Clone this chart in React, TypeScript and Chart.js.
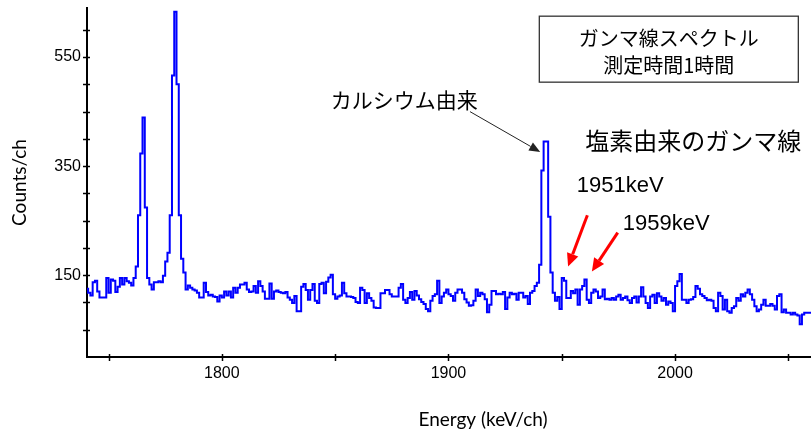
import React, { useEffect, useRef } from 'react';
import { Chart, registerables } from 'chart.js';

Chart.register(...registerables);

// ---- data -----------------------------------------------------------
const CHANNEL_START = 1740; // keV, lower edge of first channel
const CHANNEL_WIDTH = 1; // keV per channel

const counts1740 = [
  131, 125, 118, 113, 137, 140, 120, 109, 109, 109,
  145, 118, 142, 140, 119, 129, 145, 133, 145, 139,
  136, 131, 145, 166, 260, 373, 439, 274, 145, 133,
  124, 137, 137, 139, 137, 149, 175, 191, 260, 516,
];
const counts1780 = [
  633, 500, 260, 180, 155, 124, 131, 127, 124, 122,
  118, 109, 109, 136, 119, 113, 114, 111, 110, 102,
  113, 109, 120, 113, 120, 109, 127, 118, 127, 133,
  133, 136, 124, 119, 120, 130, 118, 139, 130, 120,
];
const counts1820 = [
  107, 107, 135, 107, 120, 122, 119, 118, 117, 119,
  109, 105, 99, 112, 84, 84, 129, 134, 123, 105,
  123, 134, 103, 99, 134, 136, 117, 138, 146, 151,
  115, 107, 111, 113, 136, 117, 111, 111, 110, 108,
];
const counts1860 = [
  101, 99, 127, 123, 99, 117, 108, 103, 91, 90,
  90, 117, 117, 123, 123, 115, 111, 111, 111, 127,
  134, 105, 99, 108, 119, 105, 121, 113, 106, 101,
  97, 88, 84, 103, 112, 115, 140, 99, 111, 118,
];
const counts1900 = [
  124, 115, 112, 103, 118, 124, 124, 118, 106, 100,
  94, 95, 103, 124, 112, 118, 115, 106, 82, 96,
  121, 121, 115, 116, 115, 119, 88, 109, 118, 115,
  116, 105, 118, 118, 109, 112, 97, 118, 121, 130,
];
const counts1940 = [
  136, 169, 342, 395, 395, 257, 155, 118, 103, 110,
  88, 145, 140, 108, 108, 121, 117, 124, 96, 124,
  130, 142, 105, 99, 118, 124, 120, 108, 111, 124,
  106, 107, 105, 108, 105, 111, 114, 105, 108, 111,
];
const counts1980 = [
  104, 99, 108, 111, 100, 111, 128, 111, 99, 90,
  111, 114, 99, 117, 111, 103, 108, 96, 102, 99,
  84, 130, 139, 152, 105, 105, 99, 105, 106, 110,
  130, 125, 115, 112, 108, 104, 105, 103, 90, 84,
];
const counts2020 = [
  118, 112, 87, 105, 84, 81, 90, 93, 108, 103,
  115, 111, 118, 124, 115, 105, 93, 84, 87, 96,
  105, 94, 94, 97, 94, 87, 112, 115, 82, 87,
  81, 81, 78, 81, 78, 76, 60, 78, 81, 81,
];

const counts = [
  ...counts1740, ...counts1780, ...counts1820, ...counts1860,
  ...counts1900, ...counts1940, ...counts1980, ...counts2020,
];

const xTickValues = [1750, 1800, 1850, 1900, 1950, 2000, 2050];
const xTickLabels = ['1800', '1900', '2000'];
const yTickValues = [50, 100, 150, 200, 250, 300, 350, 400, 450, 500, 550, 600];
const yTickLabels = ['150', '350', '550'];

const xTitle = 'Energy (keV/ch)';
const yTitle = 'Counts/ch';
const boxLines = ['ガンマ線スペクトル', '測定時間1時間'];
const caLabel = 'カルシウム由来';
const clLabel = '塩素由来のガンマ線';
const peakLabels = ['1951keV', '1959keV'];

// annotation placement, in data coordinates (keV, counts)
const boxRect = { e1: 1940.1, e2: 2054.4, c1: 625, c2: 504 };
const boxLineAt = [{ e: 1997.2, c: 585 }, { e: 1997.2, c: 535 }];
const caLabelAt = { e: 1880.5, c: 471 };
const caArrow = { e1: 1909.5, c1: 450, e2: 1940.5, c2: 376 };
const clLabelAt = { e: 2008, c: 396 };
const peakLabelAt = [{ e: 1975.8, c: 313 }, { e: 1996.1, c: 244 }];
const redArrows = [
  { e1: 1961.3, c1: 260, e2: 1952.8, c2: 166 },
  { e1: 1974.7, c1: 228, e2: 1963.3, c2: 157 },
];

// ---- helpers --------------------------------------------------------
function drawArrow(ctx, x1, y1, x2, y2, color, lw, headLen, headW) {
  const ang = Math.atan2(y2 - y1, x2 - x1);
  const bx = x2 - headLen * Math.cos(ang);
  const by = y2 - headLen * Math.sin(ang);
  ctx.strokeStyle = color;
  ctx.fillStyle = color;
  ctx.lineWidth = lw;
  ctx.beginPath();
  ctx.moveTo(x1, y1);
  ctx.lineTo(bx, by);
  ctx.stroke();
  ctx.beginPath();
  ctx.moveTo(x2, y2);
  ctx.lineTo(bx + (headW / 2) * Math.sin(ang), by - (headW / 2) * Math.cos(ang));
  ctx.lineTo(bx - (headW / 2) * Math.sin(ang), by + (headW / 2) * Math.cos(ang));
  ctx.closePath();
  ctx.fill();
}

const overlayPlugin = {
  id: 'overlay',
  afterDraw(chart) {
    const { ctx, chartArea } = chart;
    const xs = chart.scales.x;
    const ys = chart.scales.y;
    const px = (e) => xs.getPixelForValue(e);
    const py = (c) => ys.getPixelForValue(c);
    ctx.save();
    // tick marks crossing the axes
    ctx.strokeStyle = '#000';
    ctx.lineWidth = 1.5;
    xs.ticks.forEach((t) => {
      const p = Math.round(px(t.value)) + 0.5;
      ctx.beginPath();
      ctx.moveTo(p, chartArea.bottom - 3);
      ctx.lineTo(p, chartArea.bottom + 4);
      ctx.stroke();
    });
    ys.ticks.forEach((t) => {
      const p = Math.round(py(t.value)) + 0.5;
      ctx.beginPath();
      ctx.moveTo(chartArea.left - 4, p);
      ctx.lineTo(chartArea.left + 3, p);
      ctx.stroke();
    });

    // title box
    ctx.strokeStyle = '#333';
    ctx.lineWidth = 1.3;
    const bx1 = px(boxRect.e1), bx2 = px(boxRect.e2);
    const by1 = py(boxRect.c1), by2 = py(boxRect.c2);
    ctx.strokeRect(bx1, by1, bx2 - bx1, by2 - by1);
    ctx.fillStyle = '#000';
    ctx.textAlign = 'center';
    ctx.textBaseline = 'middle';
    ctx.font = '20px "Noto Sans CJK JP"';
    boxLines.forEach((s, i) => ctx.fillText(s, px(boxLineAt[i].e), py(boxLineAt[i].c)));

    // calcium label + arrow
    ctx.font = '21px "Noto Sans CJK JP"';
    ctx.fillText(caLabel, px(caLabelAt.e), py(caLabelAt.c));
    drawArrow(ctx, px(caArrow.e1), py(caArrow.c1), px(caArrow.e2), py(caArrow.c2), '#222', 1, 11, 9);

    // chlorine label
    ctx.fillStyle = '#000';
    ctx.font = '24px "Noto Sans CJK JP"';
    ctx.fillText(clLabel, px(clLabelAt.e), py(clLabelAt.c));

    // peak labels
    ctx.font = '22px "Liberation Sans"';
    peakLabels.forEach((s, i) => ctx.fillText(s, px(peakLabelAt[i].e), py(peakLabelAt[i].c)));

    // red arrows
    redArrows.forEach((a) => drawArrow(ctx, px(a.e1), py(a.c1), px(a.e2), py(a.c2), '#ff0000', 3, 13, 12));
    ctx.restore();
  },
};

export default function App() {
  const canvasRef = useRef(null);

  useEffect(() => {
    const points = counts.map((c, i) => ({ x: CHANNEL_START + i * CHANNEL_WIDTH, y: c }));
    points.push({ x: CHANNEL_START + counts.length * CHANNEL_WIDTH, y: counts[counts.length - 1] });

    const chart = new Chart(canvasRef.current, {
      type: 'line',
      data: {
        datasets: [
          {
            data: points,
            stepped: 'after',
            borderColor: '#0000ff',
            borderWidth: 2,
            pointRadius: 0,
            fill: false,
          },
        ],
      },
      options: {
        animation: false,
        responsive: false,
        maintainAspectRatio: false,
        devicePixelRatio: 1,
        layout: { padding: { top: 8, right: 0, left: 0, bottom: 0 } },
        plugins: { legend: { display: false }, tooltip: { enabled: false } },
        scales: {
          x: {
            type: 'linear',
            min: 1740.5,
            max: 2090,
            grid: { display: false, drawTicks: false },
            border: { display: true, color: '#000', width: 2 },
            afterBuildTicks: (s) => {
              s.ticks = xTickValues.map((v) => ({ value: v }));
            },
            ticks: {
              autoSkip: false,
              maxRotation: 0,
              padding: 7,
              color: '#000',
              font: { family: '"Liberation Sans"', size: 16 },
              callback: (v) => (xTickLabels.includes(String(v)) ? String(v) : ''),
            },
            title: {
              display: true,
              text: xTitle,
              color: '#000',
              font: { family: 'Lato', size: 19 },
              padding: { top: 4, bottom: 3 },
            },
            afterFit: (s) => {
              s.height = 77;
              s.paddingLeft = 0;
              s.paddingRight = 0;
            },
          },
          y: {
            type: 'linear',
            min: 0,
            max: 640,
            grid: { display: false, drawTicks: false },
            border: { display: true, color: '#000', width: 2 },
            afterBuildTicks: (s) => {
              s.ticks = yTickValues.map((v) => ({ value: v }));
            },
            ticks: {
              autoSkip: false,
              padding: 6,
              color: '#000',
              font: { family: '"Liberation Sans"', size: 16 },
              callback: (v) => (yTickLabels.includes(String(v)) ? String(v) : ''),
            },
            title: {
              display: true,
              text: yTitle,
              color: '#000',
              font: { family: 'Lato', size: 19 },
              padding: { top: 8, bottom: 0 },
            },
            afterFit: (s) => {
              s.width = 87;
              s.paddingTop = 0;
              s.paddingBottom = 0;
            },
          },
        },
      },
      plugins: [overlayPlugin],
    });
    return () => chart.destroy();
  }, []);

  return (
    <div
      style={{
        position: 'fixed',
        left: 0,
        top: 0,
        width: 811,
        height: 434,
        overflow: 'hidden',
        background: '#fff',
      }}
    >
      <canvas ref={canvasRef} width={879} height={434} style={{ display: 'block' }} />
    </div>
  );
}
